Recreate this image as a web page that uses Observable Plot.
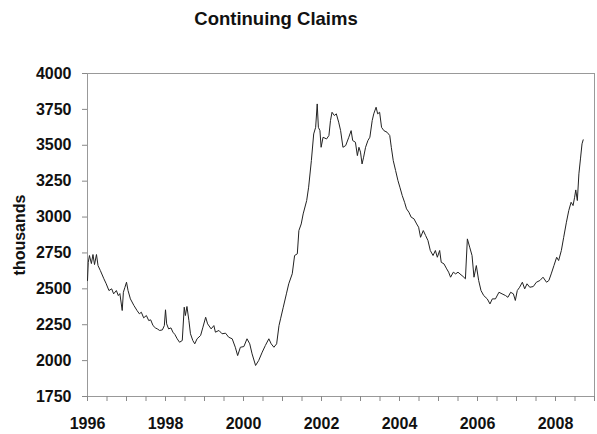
<!DOCTYPE html>
<html>
<head>
<meta charset="utf-8">
<script src="https://cdn.jsdelivr.net/npm/d3@7"></script>
<script src="https://cdn.jsdelivr.net/npm/@observablehq/plot@0.6"></script>
<style>
  html, body { margin: 0; padding: 0; background: #fff; }
  #title { width: 552px; height: 40px; line-height: 38px; text-align: center;
           font-family: "Liberation Sans", Arial, sans-serif; font-weight: bold; font-size: 18.5px; color: #111; }
</style>
</head>
<body>
<div id="title">Continuing Claims</div>
<div id="chart"></div>
<script>
const title = "Continuing Claims";
const yLabel = "thousands";
const yTicks = [1750, 2000, 2250, 2500, 2750, 3000, 3250, 3500, 3750, 4000];
const xTicks = [1996, 1996.5, 1997, 1997.5, 1998, 1998.5, 1999, 1999.5, 2000, 2000.5, 2001, 2001.5, 2002, 2002.5, 2003, 2003.5, 2004, 2004.5, 2005, 2005.5, 2006, 2006.5, 2007, 2007.5, 2008, 2008.5, 2009];
const xLabelYears = [1996, 1998, 2000, 2002, 2004, 2006, 2008];

const years = [
  1996.00, 1996.02, 1996.05, 1996.10, 1996.14, 1996.18, 1996.23, 1996.27, 1996.33, 1996.42,
  1996.48, 1996.55, 1996.62, 1996.67, 1996.74, 1996.79, 1996.83, 1996.89, 1996.92, 1996.96,
  1997.00, 1997.04, 1997.10, 1997.19, 1997.27, 1997.33, 1997.38, 1997.44, 1997.51, 1997.57,
  1997.62, 1997.68, 1997.74, 1997.79, 1997.85, 1997.92, 1997.97, 1998.00, 1998.03, 1998.08,
  1998.14, 1998.19, 1998.24, 1998.30, 1998.36, 1998.43, 1998.48, 1998.51, 1998.55, 1998.60,
  1998.64, 1998.70, 1998.75, 1998.81, 1998.90, 1998.96, 1999.03, 1999.08, 1999.17, 1999.24,
  1999.28, 1999.37, 1999.45, 1999.54, 1999.62, 1999.71, 1999.79, 1999.85, 1999.92, 2000.01,
  2000.09, 2000.16, 2000.22, 2000.31, 2000.39, 2000.48, 2000.56, 2000.65, 2000.71, 2000.78,
  2000.85, 2000.91, 2000.95, 2001.02, 2001.10, 2001.16, 2001.25, 2001.31, 2001.38, 2001.42,
  2001.48, 2001.53, 2001.62, 2001.67, 2001.74, 2001.80, 2001.85, 2001.89, 2001.92, 2001.96,
  2001.99, 2002.04, 2002.13, 2002.19, 2002.23, 2002.27, 2002.33, 2002.38, 2002.44, 2002.49,
  2002.55, 2002.62, 2002.70, 2002.76, 2002.80, 2002.87, 2002.92, 2002.96, 2003.00, 2003.04,
  2003.08, 2003.13, 2003.19, 2003.24, 2003.30, 2003.34, 2003.40, 2003.44, 2003.49, 2003.54,
  2003.60, 2003.68, 2003.75, 2003.79, 2003.84, 2003.90, 2003.96, 2004.01, 2004.07, 2004.13,
  2004.18, 2004.24, 2004.30, 2004.37, 2004.44, 2004.49, 2004.54, 2004.61, 2004.67, 2004.73,
  2004.79, 2004.86, 2004.92, 2004.97, 2005.03, 2005.07, 2005.14, 2005.21, 2005.26, 2005.31,
  2005.38, 2005.44, 2005.50, 2005.55, 2005.63, 2005.69, 2005.74, 2005.80, 2005.86, 2005.91,
  2005.97, 2006.03, 2006.09, 2006.16, 2006.25, 2006.32, 2006.38, 2006.46, 2006.55, 2006.63,
  2006.72, 2006.78, 2006.85, 2006.92, 2006.97, 2007.02, 2007.08, 2007.15, 2007.21, 2007.27,
  2007.34, 2007.43, 2007.51, 2007.60, 2007.68, 2007.77, 2007.83, 2007.89, 2007.96, 2008.03,
  2008.08, 2008.15, 2008.21, 2008.28, 2008.34, 2008.40, 2008.45, 2008.49, 2008.52, 2008.56,
  2008.60, 2008.64, 2008.68, 2008.71
];
const claims = [
  2558, 2685, 2732, 2676, 2739, 2669, 2739, 2662, 2627, 2570,
  2535, 2488, 2500, 2465, 2488, 2453, 2467, 2349, 2476, 2511,
  2546, 2488, 2430, 2384, 2349, 2326, 2337, 2298, 2314, 2279,
  2284, 2244, 2228, 2221, 2210, 2214, 2244, 2354, 2256, 2221,
  2228, 2198, 2182, 2152, 2128, 2140, 2372, 2314, 2377, 2279,
  2187, 2140, 2117, 2152, 2175, 2233, 2302, 2256, 2221, 2244,
  2198, 2210, 2187, 2191, 2163, 2152, 2093, 2035, 2093, 2098,
  2152, 2117, 2047, 1966, 2001, 2059, 2105, 2152, 2117, 2093,
  2117, 2244, 2291, 2372, 2465, 2535, 2605, 2732, 2744, 2906,
  2952, 3022, 3115, 3208, 3393, 3579, 3625, 3788, 3625, 3602,
  3486, 3556, 3544, 3568, 3672, 3730, 3707, 3719, 3661, 3602,
  3486, 3498, 3556, 3602, 3533, 3521, 3428, 3486, 3452, 3370,
  3417, 3486, 3533, 3556, 3672, 3719, 3765, 3719, 3730, 3625,
  3602, 3591, 3568, 3486, 3393, 3324, 3254, 3208, 3150, 3103,
  3057, 3034, 2999, 2988, 2952, 2929, 2859, 2906, 2871, 2836,
  2767, 2732, 2767, 2720, 2767, 2685, 2674, 2639, 2616, 2581,
  2616, 2604, 2616, 2604, 2586, 2570, 2848, 2790, 2732, 2581,
  2662, 2558, 2488, 2453, 2430, 2395, 2430, 2430, 2476, 2465,
  2453, 2441, 2476, 2465, 2419, 2488, 2511, 2546, 2500, 2535,
  2511, 2516, 2546, 2558, 2581, 2546, 2558, 2604, 2662, 2720,
  2697, 2767, 2859, 2964, 3045, 3103, 3080, 3138, 3189, 3115,
  3301, 3405, 3510, 3538
];

const data = years.map((y, i) => ({year: y, claims: claims[i]}));

const chart = Plot.plot({
  width: 597,
  height: 394,
  marginTop: 33,
  marginBottom: 38,
  marginLeft: 87,
  marginRight: 3,
  style: {
    fontFamily: "'Liberation Sans', Arial, sans-serif",
    fontSize: "16px",
    fontWeight: "bold",
    color: "#111",
    background: "#fff",
    overflow: "visible"
  },
  x: {domain: [1996, 2009]},
  y: {domain: [1750, 4000]},
  marks: [
    Plot.frame({stroke: "#999"}),
    Plot.axisY(yTicks, {
      tickSize: 5, tickPadding: 11, stroke: "#888", fill: "#111",
      tickFormat: d => String(d),
      label: yLabel, labelAnchor: "center", labelOffset: 74, labelArrow: "none"
    }),
    Plot.axisX(xTicks, {
      tickSize: 5, tickPadding: 16, stroke: "#888", fill: "#111",
      tickFormat: d => xLabelYears.includes(d) ? String(d) : "",
      label: null
    }),
    Plot.lineY(data, {x: "year", y: "claims", stroke: "#222", strokeWidth: 1})
  ]
});
document.getElementById("chart").appendChild(chart);
</script>
</body>
</html>
